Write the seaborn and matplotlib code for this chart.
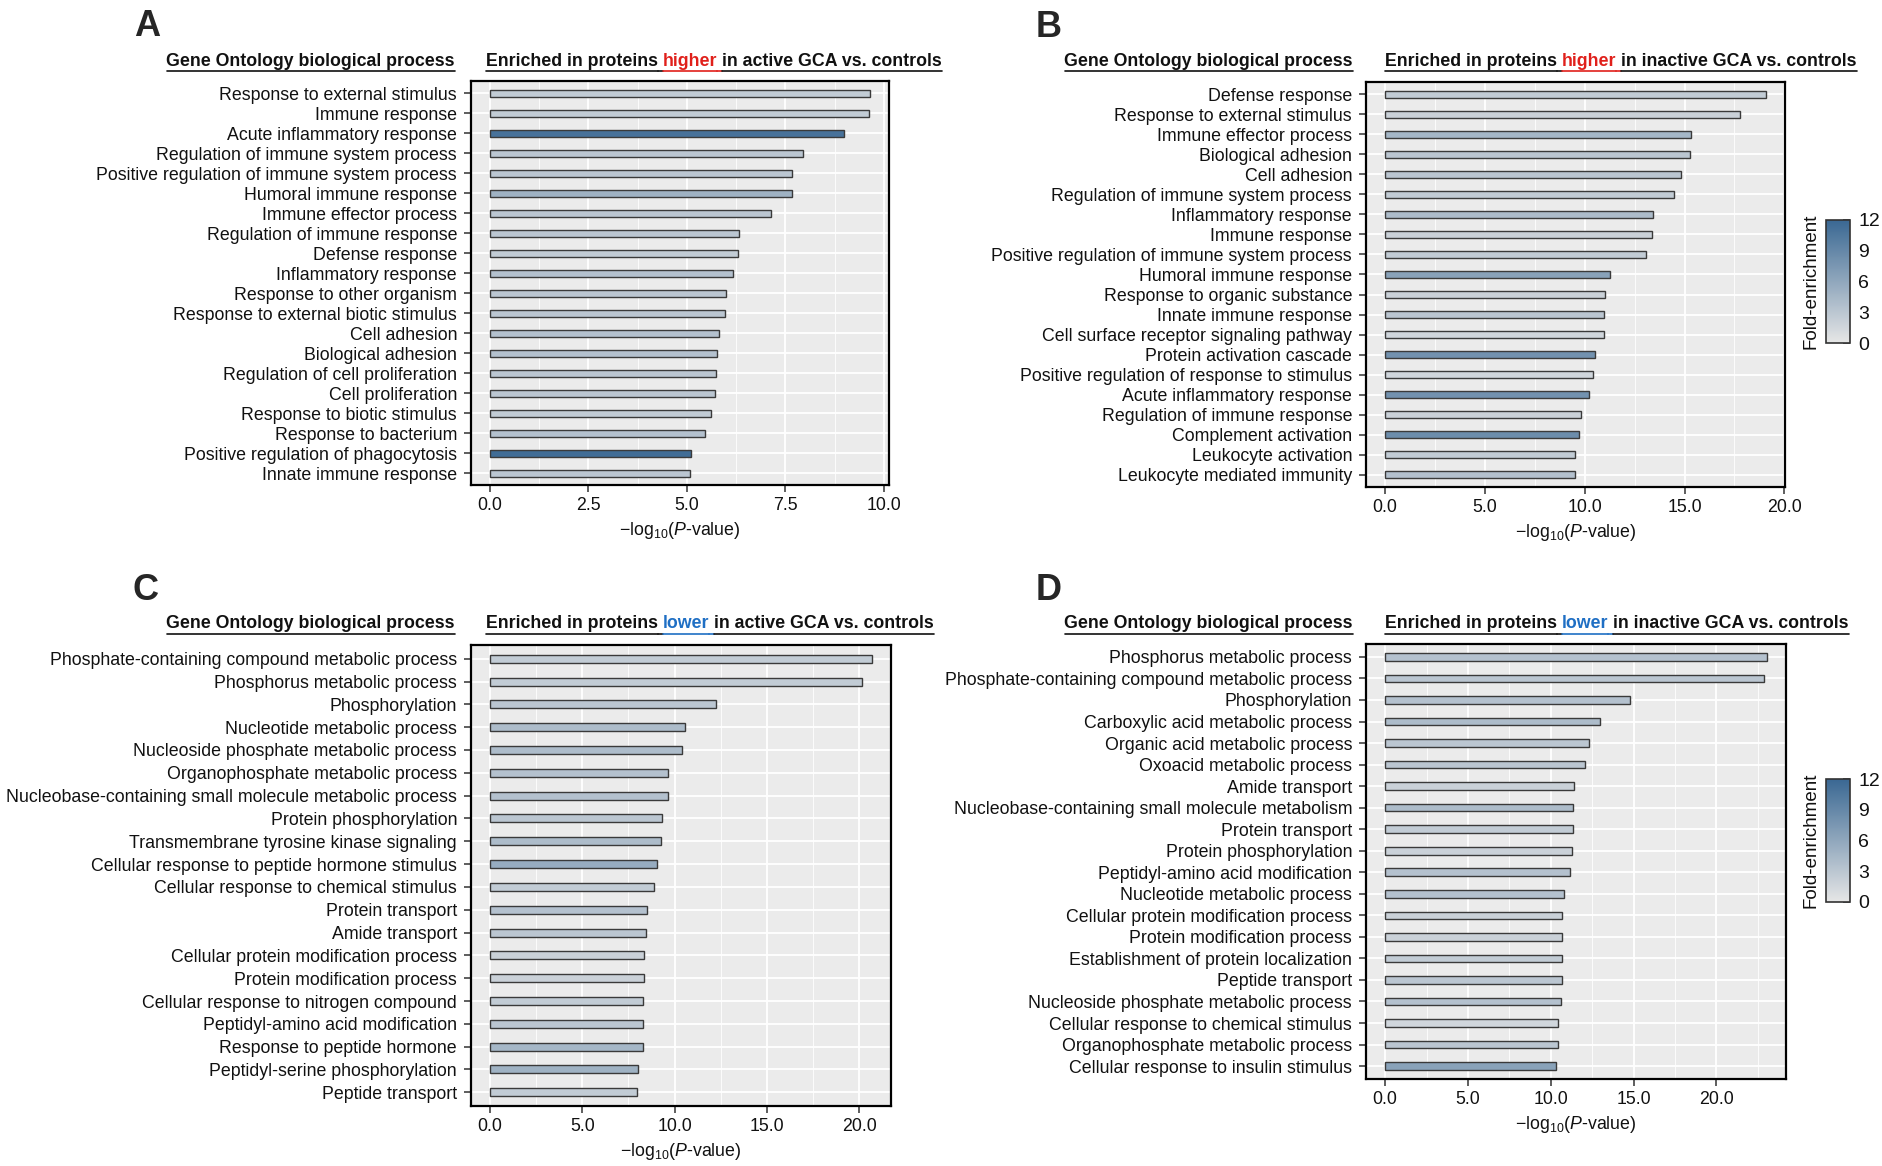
import numpy as np
import pandas as pd
import seaborn as sns
import matplotlib.pyplot as plt
from matplotlib.colors import LinearSegmentedColormap, Normalize
from matplotlib.lines import Line2D
import matplotlib.cm as cm

# panel A: higher in active GCA
a_terms = ['Response to external stimulus', 'Immune response', 'Acute inflammatory response',
           'Regulation of immune system process', 'Positive regulation of immune system process',
           'Humoral immune response', 'Immune effector process', 'Regulation of immune response',
           'Defense response', 'Inflammatory response', 'Response to other organism',
           'Response to external biotic stimulus', 'Cell adhesion', 'Biological adhesion',
           'Regulation of cell proliferation', 'Cell proliferation', 'Response to biotic stimulus',
           'Response to bacterium', 'Positive regulation of phagocytosis', 'Innate immune response']
a_logp = [9.65, 9.63, 8.98, 7.94, 7.68, 7.66, 7.14, 6.32, 6.31, 6.17,
          6.00, 5.97, 5.82, 5.77, 5.75, 5.72, 5.62, 5.46, 5.11, 5.08]
a_fold = [2.5, 2.5, 11.0, 3.0, 3.0, 5.0, 3.0, 3.0, 2.5, 3.5,
          3.0, 3.0, 3.5, 3.5, 3.0, 3.0, 2.5, 3.5, 11.5, 3.0]

# panel B: higher in inactive GCA
b_terms = ['Defense response', 'Response to external stimulus', 'Immune effector process',
           'Biological adhesion', 'Cell adhesion', 'Regulation of immune system process',
           'Inflammatory response', 'Immune response', 'Positive regulation of immune system process',
           'Humoral immune response', 'Response to organic substance', 'Innate immune response',
           'Cell surface receptor signaling pathway', 'Protein activation cascade',
           'Positive regulation of response to stimulus', 'Acute inflammatory response',
           'Regulation of immune response', 'Complement activation', 'Leukocyte activation',
           'Leukocyte mediated immunity']
b_logp = [19.08, 17.8, 15.34, 15.28, 14.8, 14.47, 13.44, 13.35, 13.05, 11.28,
          11.04, 10.98, 10.95, 10.5, 10.4, 10.23, 9.8, 9.71, 9.5, 9.5]
b_fold = [2.5, 2.0, 4.5, 3.0, 3.0, 2.5, 4.0, 2.0, 2.5, 6.5,
          2.0, 3.0, 1.5, 8.0, 1.5, 8.0, 2.0, 8.5, 2.5, 3.5]

# panel C: lower in active GCA
c_terms = ['Phosphate-containing compound metabolic process', 'Phosphorus metabolic process',
           'Phosphorylation', 'Nucleotide metabolic process', 'Nucleoside phosphate metabolic process',
           'Organophosphate metabolic process', 'Nucleobase-containing small molecule metabolic process',
           'Protein phosphorylation', 'Transmembrane tyrosine kinase signaling',
           'Cellular response to peptide hormone stimulus', 'Cellular response to chemical stimulus',
           'Protein transport', 'Amide transport', 'Cellular protein modification process',
           'Protein modification process', 'Cellular response to nitrogen compound',
           'Peptidyl-amino acid modification', 'Response to peptide hormone',
           'Peptidyl-serine phosphorylation', 'Peptide transport']
c_logp = [20.69, 20.16, 12.23, 10.56, 10.39, 9.64, 9.62, 9.31, 9.25, 9.05,
          8.89, 8.49, 8.46, 8.33, 8.33, 8.30, 8.26, 8.26, 8.00, 7.97]
c_fold = [2.5, 2.5, 3.0, 4.0, 4.0, 3.5, 3.5, 3.0, 4.0, 5.5,
          2.5, 3.5, 3.0, 2.0, 2.0, 2.5, 3.0, 4.5, 5.0, 2.5]

# panel D: lower in inactive GCA
d_terms = ['Phosphorus metabolic process', 'Phosphate-containing compound metabolic process',
           'Phosphorylation', 'Carboxylic acid metabolic process', 'Organic acid metabolic process',
           'Oxoacid metabolic process', 'Amide transport',
           'Nucleobase-containing small molecule metabolism', 'Protein transport',
           'Protein phosphorylation', 'Peptidyl-amino acid modification', 'Nucleotide metabolic process',
           'Cellular protein modification process', 'Protein modification process',
           'Establishment of protein localization', 'Peptide transport',
           'Nucleoside phosphate metabolic process', 'Cellular response to chemical stimulus',
           'Organophosphate metabolic process', 'Cellular response to insulin stimulus']
d_logp = [23.05, 22.87, 14.81, 13.0, 12.3, 12.09, 11.4, 11.36, 11.36, 11.29,
          11.14, 10.82, 10.71, 10.71, 10.67, 10.67, 10.64, 10.45, 10.42, 10.34]
d_fold = [3.5, 3.0, 3.5, 4.0, 3.0, 3.0, 2.0, 4.0, 2.5, 2.0,
          3.5, 3.5, 2.0, 2.0, 2.5, 3.0, 3.5, 1.5, 3.0, 6.5]

sns.set_theme(style='darkgrid')
plt.rcParams['font.family'] = ['Liberation Sans', 'DejaVu Sans']
plt.rcParams['mathtext.fontset'] = 'custom'
plt.rcParams['mathtext.rm'] = 'Liberation Sans'
plt.rcParams['mathtext.it'] = 'Liberation Sans:italic'

W, H = 1882, 1166
fig = plt.figure(figsize=(W / 100, H / 100), dpi=100)
fig.patch.set_facecolor('white')

cmap = LinearSegmentedColormap.from_list('fold', ['#e6e6e6', '#3a6893'])
norm = Normalize(0, 12)
FS = 12.8


def rect(l, t, r, b):
    return [l / W, 1 - b / H, (r - l) / W, (b - t) / H]


def panel(box, terms, logp, fold, ticks):
    ax = fig.add_axes(rect(*box))
    df = pd.DataFrame({'term': terms, 'logp': logp})
    colors = [cmap(norm(f)) for f in fold]
    sns.barplot(data=df, x='logp', y='term', hue='term', palette=colors, legend=False,
                saturation=1, width=0.35, edgecolor='#3a3a3a', linewidth=1.0, ax=ax)
    mx = max(logp)
    ax.set_xlim(-0.05 * mx, 1.05 * mx)
    ax.set_ylim(len(terms) - 0.4, -0.6)
    ax.set_facecolor('#ebebeb')
    ax.set_xticks(ticks)
    ax.set_xticklabels([f'{t:.1f}' for t in ticks])
    step = ticks[1] - ticks[0]
    ax.set_xticks(np.arange(ticks[0] + step / 2, 1.05 * mx, step), minor=True)
    ax.grid(which='major', color='white', lw=1.3)
    ax.grid(which='minor', axis='x', color='white', lw=0.6)
    ax.set_axisbelow(True)
    for s in ax.spines.values():
        s.set_visible(True)
        s.set_color('black')
        s.set_linewidth(1.6)
    ax.tick_params(axis='y', which='major', length=5, width=1.1, color='#333333',
                   labelsize=FS, labelcolor='#111111', pad=5, left=True)
    ax.tick_params(axis='x', which='major', length=5, width=1.1, color='#333333',
                   labelsize=FS, labelcolor='#111111', pad=3.5, bottom=True)
    ax.tick_params(which='minor', length=0)
    ax.set_ylabel('')
    ax.set_xlabel(r'$-$log$_{10}$($\mathit{P}$-value)', fontsize=FS, color='#111111', labelpad=4.5)
    return ax


panel((471, 81, 889, 485), a_terms, a_logp, a_fold, [0, 2.5, 5, 7.5, 10])
panel((1366, 82, 1785, 487), b_terms, b_logp, b_fold, [0, 5, 10, 15, 20])
panel((471, 645, 891, 1106), c_terms, c_logp, c_fold, [0, 5, 10, 15, 20])
panel((1366, 644, 1786, 1079), d_terms, d_logp, d_fold, [0, 5, 10, 15, 20])

# colorbars
for box in [(1826, 220, 1850, 343), (1826, 779, 1850, 902)]:
    cax = fig.add_axes(rect(*box))
    cb = fig.colorbar(cm.ScalarMappable(norm=norm, cmap=cmap), cax=cax, ticks=[0, 3, 6, 9, 12])
    cb.outline.set_edgecolor('#333333')
    cb.outline.set_linewidth(1.2)
    cax.tick_params(direction='in', length=5, width=1.1, color='#333333', right=True,
                    labelsize=14, pad=6, labelcolor='#111111')
    cax.yaxis.set_label_position('left')
    cax.set_ylabel('Fold-enrichment', fontsize=13.5, color='#111111', labelpad=5)

# panel letters
for letter, x, y in [('A', 134, 9), ('B', 1036, 10), ('C', 133, 573), ('D', 1036, 573)]:
    fig.text(x / W, 1 - y / H, letter, fontsize=26, fontweight='bold', ha='left', va='top')

fig.canvas.draw()
renderer = fig.canvas.get_renderer()


def underline(t, color):
    bb = t.get_window_extent(renderer)
    y = bb.y0 - 1
    fig.add_artist(Line2D([bb.x0 / W, bb.x1 / W], [y / H, y / H], transform=fig.transFigure,
                          color=color, lw=1.2))
    return bb


def text_w(s):
    t = fig.text(0, 0, s, fontsize=FS, fontweight='bold')
    w = t.get_window_extent(renderer).width
    t.remove()
    return w


space = text_w('a a') - text_w('aa')


def header(xr, xl, y, word, color, rest):
    t = fig.text(xr / W, 1 - y / H, 'Gene Ontology biological process', fontsize=FS,
                 fontweight='bold', ha='right', va='center', color='#111111')
    underline(t, '#111111')
    x = xl
    for s, c in [('Enriched in proteins', '#111111'), (word, color), (rest, '#111111')]:
        t = fig.text(x / W, 1 - y / H, s, fontsize=FS, fontweight='bold', ha='left',
                     va='center', color=c)
        bb = underline(t, c)
        if s != rest:
            fig.add_artist(Line2D([bb.x1 / W, (bb.x1 + space) / W], [(bb.y0 - 1) / H] * 2,
                                  transform=fig.transFigure, color=c, lw=1.2))
        x = bb.x1 + space


header(455, 486, 61, 'higher', '#e0201b', 'in active GCA vs. controls')
header(1353, 1385, 61, 'higher', '#e0201b', 'in inactive GCA vs. controls')
header(455, 486, 624, 'lower', '#1f6fc4', 'in active GCA vs. controls')
header(1353, 1385, 624, 'lower', '#1f6fc4', 'in inactive GCA vs. controls')

fig.savefig('out.png', dpi=100)
